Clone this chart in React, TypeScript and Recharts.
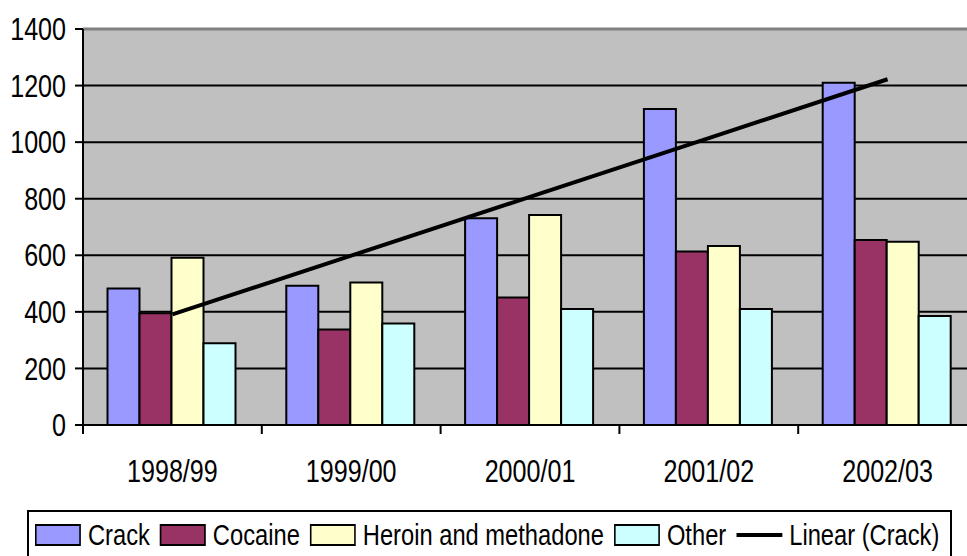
import React from 'react';
import { ComposedChart, Bar, Line, XAxis, YAxis, CartesianGrid, ReferenceLine } from 'recharts';

const years = ['1998/99', '1999/00', '2000/01', '2001/02', '2002/03'];
const crack = [483, 492, 731, 1117, 1210];
const cocaine = [395, 338, 451, 613, 654];
const heroin = [591, 504, 742, 633, 648];
const other = [289, 359, 410, 410, 385];
const yTicks = [0, 200, 400, 600, 800, 1000, 1200, 1400];

const FONT = '"Liberation Sans", Arial, sans-serif';
// narrow look for all labels
const SQUEEZE = 0.81;
const LEGEND_SQUEEZE = 0.79;

const CHART_W = 980;
const CHART_H = 556;
const Y_W = 83;
const RIGHT = 3;
const BAND = (CHART_W - Y_W - RIGHT) / years.length;

// least squares fit over the crack series -> "Linear (Crack)"
const fitTrend = (vals: number[]) => {
  const n = vals.length;
  const xs = vals.map((_, i) => i + 1);
  const mx = xs.reduce((a, b) => a + b, 0) / n;
  const my = vals.reduce((a, b) => a + b, 0) / n;
  let num = 0;
  let den = 0;
  xs.forEach((x, i) => {
    num += (x - mx) * (vals[i] - my);
    den += (x - mx) * (x - mx);
  });
  const slope = num / den;
  return xs.map((x) => my + slope * (x - mx));
};
const trend = fitTrend(crack);

const data = years.map((y, i) => ({
  year: y,
  crack: crack[i],
  cocaine: cocaine[i],
  heroin: heroin[i],
  other: other[i],
  trend: trend[i],
}));

const series = [
  { key: 'crack', name: 'Crack', color: '#9999FF' },
  { key: 'cocaine', name: 'Cocaine', color: '#993366' },
  { key: 'heroin', name: 'Heroin and methadone', color: '#FFFFCC' },
  { key: 'other', name: 'Other', color: '#CCFFFF' },
];

// category label centred under the band, tick mark on the band boundary
const YearTick = (props: any) => {
  const { x, y, payload, index } = props;
  const last = index === years.length - 1;
  return (
    <g>
      <line x1={x - BAND / 2} y1={y} x2={x - BAND / 2} y2={y + 9} stroke="#000" strokeWidth={2} />
      {last && <line x1={x + BAND / 2} y1={y} x2={x + BAND / 2} y2={y + 9} stroke="#000" strokeWidth={2} />}
      <text
        transform={`translate(${x},${y + 57}) scale(${SQUEEZE},1)`}
        textAnchor="middle"
        fontSize={31}
        fontFamily={FONT}
        fill="#000"
      >
        {payload.value}
      </text>
    </g>
  );
};

const ValueTick = (props: any) => {
  const { x, y, payload } = props;
  return (
    <text
      transform={`translate(${x},${y}) scale(${SQUEEZE},1)`}
      textAnchor="end"
      dy="0.36em"
      fontSize={31}
      fontFamily={FONT}
      fill="#000"
    >
      {payload.value}
    </text>
  );
};

const u = (px: number) => px / LEGEND_SQUEEZE;

const Swatch = ({ color }: { color: string }) => (
  <span
    style={{
      display: 'inline-block',
      boxSizing: 'border-box',
      width: u(46),
      height: 22,
      background: color,
      borderTop: '2px solid #000',
      borderBottom: '2px solid #000',
      borderLeft: `${u(2)}px solid #000`,
      borderRight: `${u(2)}px solid #000`,
      marginRight: u(7),
    }}
  />
);

export default function App() {
  return (
    <div style={{ position: 'absolute', left: 0, top: 0, width: 967, height: 556, overflow: 'hidden', background: '#fff' }}>
      <ComposedChart
        width={CHART_W}
        height={CHART_H}
        data={data}
        margin={{ top: 29, right: RIGHT, bottom: 71, left: 0 }}
        barCategoryGap={24.5}
        barGap={0}
      >
        <CartesianGrid vertical={false} stroke="#000" strokeWidth={2} fill="#C0C0C0" fillOpacity={1} />
        <XAxis
          dataKey="year"
          height={60}
          tickLine={false}
          tickSize={0}
          tickMargin={0}
          axisLine={{ stroke: '#000', strokeWidth: 2 }}
          tick={<YearTick />}
          interval={0}
        />
        <YAxis
          width={Y_W}
          domain={[0, 1400]}
          ticks={yTicks}
          interval={0}
          tickSize={8}
          tickMargin={9}
          axisLine={{ stroke: '#000', strokeWidth: 2 }}
          tickLine={{ stroke: '#000', strokeWidth: 2 }}
          tick={<ValueTick />}
        />
        <ReferenceLine y={1400} stroke="#808080" strokeWidth={3} />
        {series.map((s) => (
          <Bar key={s.key} dataKey={s.key} name={s.name} fill={s.color} stroke="#000" strokeWidth={2} isAnimationActive={false} />
        ))}
        <Line dataKey="trend" name="Linear (Crack)" stroke="#000" strokeWidth={4} dot={false} isAnimationActive={false} />
      </ComposedChart>
      <div
        style={{
          position: 'absolute',
          left: 27,
          top: 510,
          width: 925,
          height: 60,
          border: '2px solid #000',
          boxSizing: 'border-box',
        }}
      />
      <div
        style={{
          position: 'absolute',
          left: 35,
          top: 523,
          display: 'flex',
          alignItems: 'center',
          transform: `scaleX(${LEGEND_SQUEEZE})`,
          transformOrigin: 'left top',
          fontFamily: FONT,
          fontSize: 30,
          lineHeight: '24px',
          color: '#000',
          whiteSpace: 'nowrap',
        }}
      >
        {series.map((s) => (
          <span key={s.key} style={{ display: 'flex', alignItems: 'center', marginRight: u(10) }}>
            <Swatch color={s.color} />
            {s.name}
          </span>
        ))}
        <span style={{ display: 'flex', alignItems: 'center' }}>
          <span style={{ display: 'inline-block', width: u(46), height: 4, background: '#000', marginRight: u(7) }} />
          Linear (Crack)
        </span>
      </div>
    </div>
  );
}
